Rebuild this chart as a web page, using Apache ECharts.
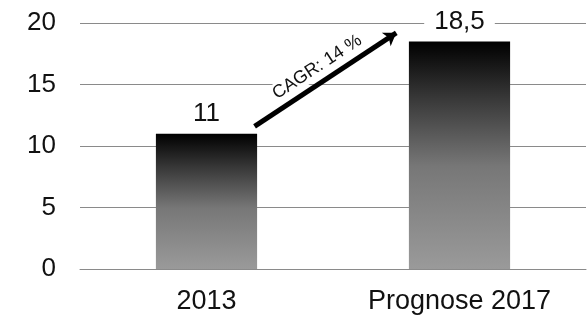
<!DOCTYPE html>
<html>
<head>
<meta charset="utf-8">
<script src="https://cdn.jsdelivr.net/npm/echarts@6/dist/echarts.min.js"></script>
<style>
  html, body { margin: 0; padding: 0; background: #fff; }
  #container { width: 588px; height: 317px; }
</style>
</head>
<body>
<div id="container"></div>
<script>
  // chart data
  var categories = ['2013', 'Prognose 2017'];
  var values = [11, 18.5];
  var yTicks = { min: 0, max: 20, interval: 5 };
  var cagrText = 'CAGR: 14 %';
  // arrow ends, as [category position, value]
  var arrowFrom = [0.19, 11.6];
  var arrowTo = [0.75, 19.2];

  var font = 'Liberation Sans, Arial, sans-serif';

  var barGradient = new echarts.graphic.LinearGradient(0, 0, 0, 1, [
    { offset: 0, color: '#000' },
    { offset: 0.25, color: '#383838' },
    { offset: 0.55, color: '#777' },
    { offset: 1, color: '#9a9a9a' }
  ]);

  var myChart = echarts.init(document.getElementById('container'));

  var option = {
    animation: false,
    backgroundColor: '#fff',
    grid: { left: 80, right: 2, top: 23, bottom: 48, containLabel: false },
    xAxis: {
      type: 'category',
      data: categories,
      axisLine: { show: true, lineStyle: { color: '#8a8a8a', width: 1 } },
      axisTick: { show: false },
      axisLabel: { color: '#111', fontSize: 27, fontFamily: font, margin: 19 }
    },
    yAxis: {
      type: 'value',
      min: yTicks.min,
      max: yTicks.max,
      interval: yTicks.interval,
      axisLine: { show: false },
      axisTick: { show: false },
      axisLabel: { color: '#111', fontSize: 26, fontFamily: font, margin: 24 },
      splitLine: { lineStyle: { color: '#8a8a8a', width: 1 } }
    },
    series: [{
      type: 'bar',
      data: values,
      barWidth: '40%',
      itemStyle: { color: barGradient },
      label: {
        show: true,
        position: 'top',
        distance: 7,
        color: '#111',
        fontSize: 26,
        fontFamily: font,
        backgroundColor: '#fff',
        padding: [0, 10],
        formatter: function (p) { return String(p.value).replace('.', ','); }
      }
    }]
  };

  myChart.setOption(option);

  // place the CAGR arrow between the bars
  function toPixel(pt) {
    var c0 = myChart.convertToPixel({ gridIndex: 0 }, [0, pt[1]]);
    var c1 = myChart.convertToPixel({ gridIndex: 0 }, [1, pt[1]]);
    return { x: c0[0] + (c1[0] - c0[0]) * pt[0], y: c0[1] };
  }
  var a = toPixel(arrowFrom);
  var b = toPixel(arrowTo);

  myChart.setOption({
    series: [{
      markLine: {
        silent: true,
        symbol: ['none', 'arrow'],
        symbolSize: [12, 12],
        lineStyle: { color: '#000', width: 5, type: 'solid' },
        label: {
          show: true,
          position: 'insideMiddleTop',
          formatter: cagrText,
          color: '#111',
          fontSize: 18,
          fontFamily: font,
          backgroundColor: '#fff',
          padding: [1, 3],
          distance: 5
        },
        data: [[{ x: a.x, y: a.y }, { x: b.x, y: b.y }]]
      }
    }]
  });
</script>
</body>
</html>
